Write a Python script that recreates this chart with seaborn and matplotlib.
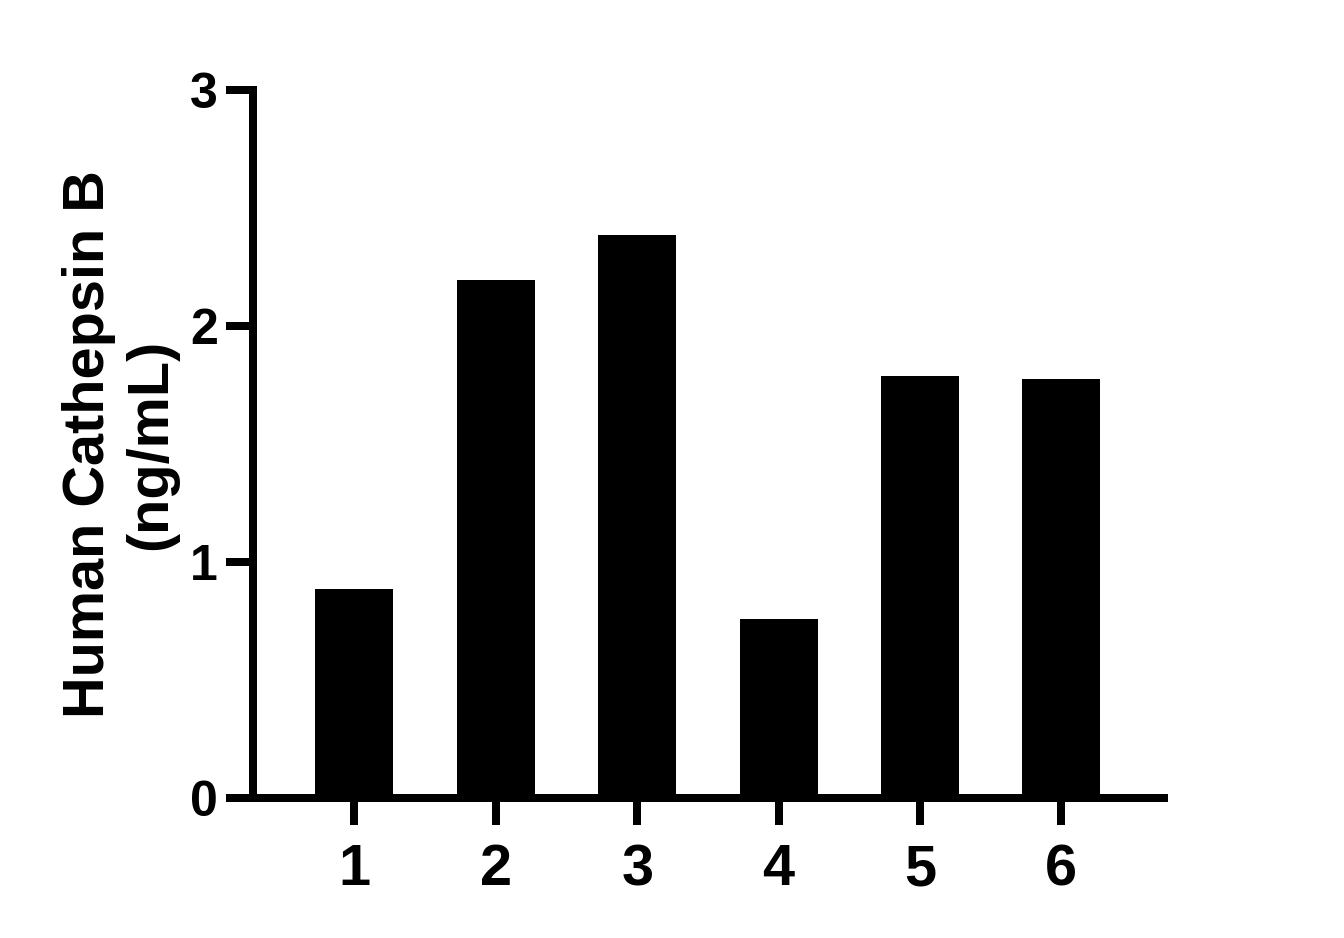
import matplotlib
matplotlib.use("Agg")
import matplotlib.pyplot as plt
import seaborn as sns
import pandas as pd

# Data
categories = ["1", "2", "3", "4", "5", "6"]
values = [0.886, 2.195, 2.386, 0.759, 1.790, 1.776]
y_ticks = [0, 1, 2, 3]
y_label = "Human Cathepsin B\n(ng/mL)"

sns.set_style("white")
plt.rcParams["font.family"] = ["Liberation Sans", "DejaVu Sans"]
plt.rcParams["font.weight"] = "bold"
plt.rcParams["text.color"] = "black"
plt.rcParams["axes.labelcolor"] = "black"
plt.rcParams["xtick.color"] = "black"
plt.rcParams["ytick.color"] = "black"

df = pd.DataFrame({"group": categories, "value": values})

fig = plt.figure(figsize=(13.44, 9.38), dpi=100)
ax = fig.add_axes([0.1886, 0.1489, 0.6771, 0.7551])

sns.barplot(data=df, x="group", y="value", order=categories, color="black",
            saturation=1, width=0.552, edgecolor="none", linewidth=0, ax=ax)

ax.set_xlim(-0.714, 5.722)
ax.set_ylim(0, 3)
ax.set_yticks(y_ticks)
ax.set_yticklabels([str(t) for t in y_ticks])

for s in ["top", "right"]:
    ax.spines[s].set_visible(False)
for s in ["left", "bottom"]:
    ax.spines[s].set_linewidth(5.76)
    ax.spines[s].set_color("black")

ax.tick_params(axis="y", which="major", left=True, direction="out", length=19.8, width=5.76,
               color="black", labelcolor="black", pad=5.8, labelsize=36)
ax.tick_params(axis="x", which="major", bottom=True, direction="out", length=19.2, width=5.76,
               color="black", labelcolor="black", pad=13, labelsize=41.5)
for lab in ax.get_xticklabels() + ax.get_yticklabels():
    lab.set_fontweight("bold")

ax.set_xlabel("")
ax.set_ylabel(y_label, fontsize=41.5, fontweight="bold", linespacing=1.2, color="black")
ax.yaxis.set_label_coords(-0.083, 0.5)
ax.grid(False)

fig.savefig("out.png", dpi=100, facecolor="white")
